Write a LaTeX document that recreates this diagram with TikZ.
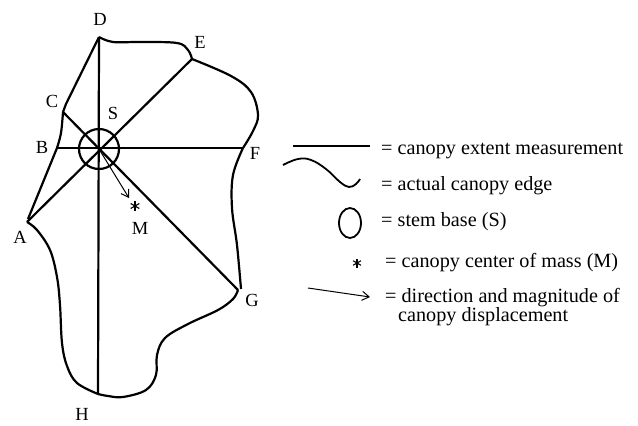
\documentclass[tikz,border=0pt]{standalone}
\usepackage{fontspec}
\setmainfont{Liberation Serif}
\usetikzlibrary{arrows.meta,calc}
\begin{document}
\begin{tikzpicture}[x=1pt,y=-1pt,
  measure/.style={line width=2.2pt},
  rim/.style={line width=2.2pt},
  displace/.style={line width=1pt,-{Straight Barb[length=7pt,width=9pt]}},
  lbl/.style={font=\fontsize{18.5}{20}\selectfont,inner sep=0pt},
  legtext/.style={font=\fontsize{20.2}{22}\selectfont,inner sep=0pt,anchor=west},
  starmark/.style={line width=1.1pt}]
\useasboundingbox (0,0) rectangle (638,426);

% measurement end points and stem centre
\coordinate (S) at (99,149);
\coordinate (D) at (99,37);
\coordinate (H) at (98,394);
\coordinate (E) at (192,59);
\coordinate (A) at (27,222);
\coordinate (C) at (63,112);
\coordinate (G) at (238,290);
\coordinate (B) at (57,148);
\coordinate (F) at (243,148);
\coordinate (M) at (135,206);
\coordinate (tip) at (129,198);

% canopy extent measurements
\draw[measure] (D) -- (H);
\draw[measure] (E) -- (A);
\draw[measure] (C) -- (G);
\draw[measure] (B) -- (F);

% stem base
\node[draw,circle,line width=2.2pt,minimum size=40pt,inner sep=0pt] (stem) at (S) {};

% canopy edge
\draw[rim] (D) -- (66,104) -- (C);
\draw[rim] plot[smooth,tension=0.6] coordinates {(C) (61,133) (B)};
\draw[rim] (B) -- (28,219);
\draw[rim] plot[smooth,tension=0.6] coordinates {(A) (37,230) (50,250) (57,277) (60,305) (62,343) (67,366) (77,383) (H)};
\draw[rim] plot[smooth,tension=0.6] coordinates {(H) (108,396) (123,397) (146,390) (156,375) (157,355) (165,338) (188,324) (218,310) (233,299) (G)};
\draw[rim] plot[smooth,tension=0.6] coordinates {(241,289) (237,245) (232,208) (233,175) (F)};
\draw[rim] plot[smooth,tension=0.6] coordinates {(F) (253,131) (258,115) (251,92) (231,76) (E)};
\draw[rim] plot[smooth,tension=0.6] coordinates {(E) (188,50) (177,43) (140,42) (113,42) (D)};

% canopy displacement and centre of mass
\draw[displace] (S) -- (tip);
\foreach \a in {90,30,150}
  \draw[starmark] ($(M)+(\a:5)$) -- ($(M)+(\a+180:5)$);

% point labels
\node[lbl] (lD) at (100,19) {D};
\node[lbl] (lE) at (200,42) {E};
\node[lbl] (lC) at (52,101) {C};
\node[lbl] (lS) at (113,113) {S};
\node[lbl] (lB) at (42,147) {B};
\node[lbl] (lF) at (255,153) {F};
\node[lbl] (lA) at (20,237) {A};
\node[lbl] (lG) at (252,300) {G};
\node[lbl] (lM) at (140,228) {M};
\node[lbl] (lH) at (82,414) {H};

% legend
\coordinate (k1a) at (293,146);
\coordinate (k1b) at (370,146);
\draw[measure,line width=1.8pt] (k1a) -- (k1b);
\node[legtext] (t1) at (381,151) {= canopy extent measurement};

\draw[rim,line width=1.8pt] plot[smooth,tension=0.7] coordinates {(283,165) (298,159) (311,160) (326,169) (340,182) (349,187) (356,184) (360,179)};
\node[legtext] (t2) at (381,186) {= actual canopy edge};

\draw[line width=1.8pt] (350,223) ellipse [x radius=11,y radius=15];
\node[legtext] (t3) at (381,222) {= stem base (S)};

\coordinate (k4) at (357,263);
\foreach \a in {90,30,150}
  \draw[starmark] ($(k4)+(\a:4.5)$) -- ($(k4)+(\a+180:4.5)$);
\node[legtext] (t4) at (385,263) {= canopy center of mass (M)};

\coordinate (k5a) at (308,288);
\coordinate (k5b) at (370,297);
\draw[displace] (k5a) -- (k5b);
\node[legtext] (t5) at (385,298) {= direction and magnitude of};
\node[legtext] (t6) at (398,317) {canopy displacement};
\end{tikzpicture}
\end{document}
